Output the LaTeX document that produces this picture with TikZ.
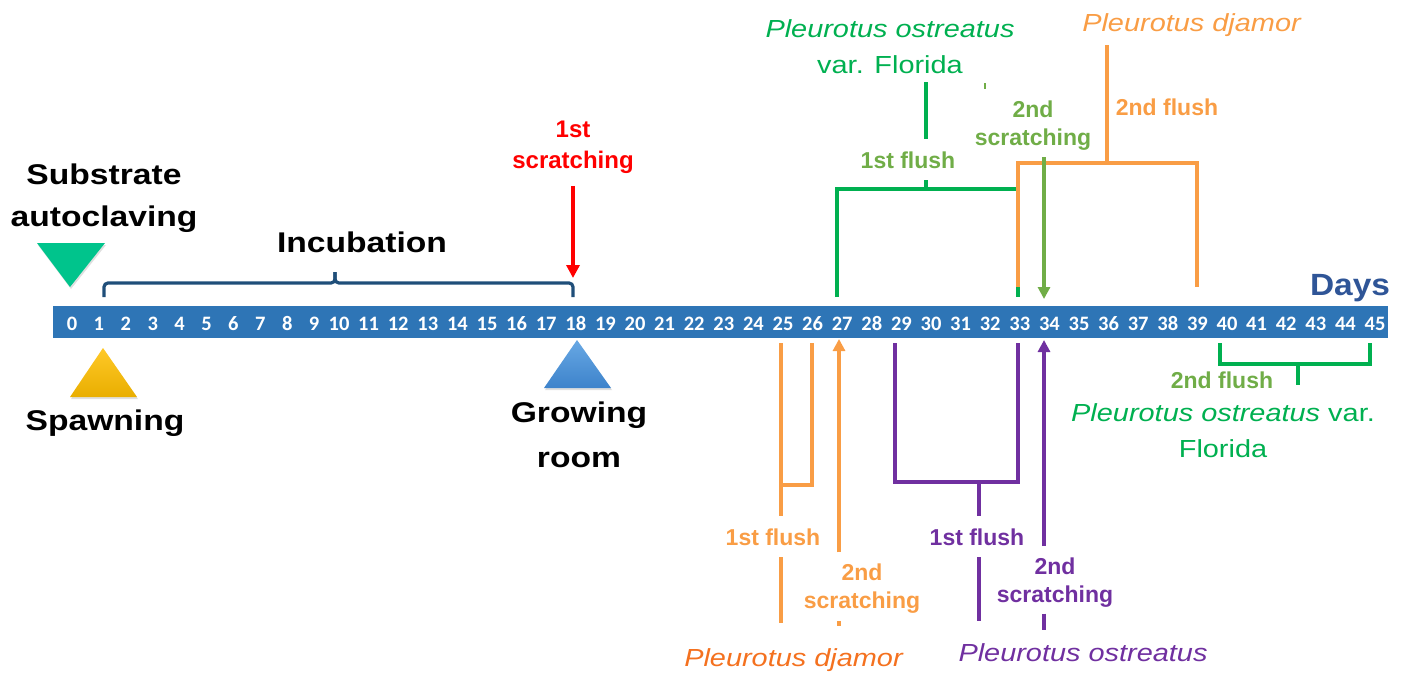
\documentclass[tikz,border=0pt]{standalone}
\usepackage{fontspec}
\setmainfont{Liberation Sans}
\newfontfamily\wideS[FakeStretch=1.18]{Liberation Sans}
\newfontfamily\spS[FakeStretch=1.17]{Liberation Sans}
\newfontfamily\daysF[FakeStretch=1.09]{Liberation Sans}
\newfontfamily\plainS{Liberation Sans}
\newfontfamily\numF{Carlito}
\usetikzlibrary{arrows.meta,shadows}
\definecolor{barblue}{HTML}{2E75B6}
\definecolor{daysblue}{HTML}{2F5597}
\definecolor{bracenavy}{HTML}{1F4E79}
\definecolor{fgreen}{HTML}{00B050}
\definecolor{olive}{HTML}{70AD47}
\definecolor{lorange}{HTML}{F99D45}
\definecolor{dorange}{HTML}{F4711F}
\definecolor{purp}{HTML}{7030A0}
\definecolor{tgreen}{HTML}{00C48C}
\definecolor{tyellowA}{HTML}{FFC928}
\definecolor{tyellowB}{HTML}{E9AE00}
\definecolor{tblueA}{HTML}{68A8E4}
\definecolor{tblueB}{HTML}{3D83CB}
\begin{document}
\begin{tikzpicture}[x=1pt,y=-1pt,
  big/.style={font={\wideS\bfseries\fontsize{28.5}{42}\selectfont}, align=center, inner sep=0pt},
  species/.style={font={\spS\fontsize{24.7}{36}\selectfont}, align=center, inner sep=0pt},
  small/.style={font={\plainS\bfseries\fontsize{23}{28}\selectfont}, align=center, inner sep=0pt},
  day/.style={font={\numF\bfseries\fontsize{20.5}{24}\selectfont}, text=white, inner sep=0pt, anchor=base},
  conn/.style={line width=3.2pt},
  tip/.style={-{Triangle[width=12pt,length=12pt]}},
  shad/.style={drop shadow={opacity=0.25, shadow xshift=1pt, shadow yshift=-2pt}},
]
\useasboundingbox (0,0) rectangle (1407,677);

% timeline bar and days
\node[fill=barblue, minimum width=1335pt, minimum height=32pt, inner sep=0pt, outer sep=0pt] (bar) at (720.5,322) {};
\foreach \n in {0,...,45}{
  \pgfmathsetmacro\xx{\n<10 ? 72+26.9*\n : 339+29.6*(\n-10)}
  \node[day] (d\n) at (\xx,330) {\n};
}
\node[font={\daysF\bfseries\fontsize{30.7}{36}\selectfont}, text=daysblue, anchor=base, inner sep=0pt] (days) at (1350,295) {Days};

% triangles
\fill[tgreen, shad] (37,243) -- (105,243) -- (70,287) -- cycle;
\path[top color=tyellowA, bottom color=tyellowB, shad] (103,348) -- (137,397) -- (70,397) -- cycle;
\path[top color=tblueA, bottom color=tblueB, shad] (577,340) -- (611,388) -- (544,388) -- cycle;

% black labels
\node[big] (substrate) at (104,198.5) {Substrate\\autoclaving};
\node[big, anchor=base] (incub) at (362,252) {Incubation};
\node[big, anchor=base] (spawn) at (105,430) {Spawning};
\node[big, font={\wideS\bfseries\fontsize{28.5}{45}\selectfont}] (grow) at (579,435) {Growing\\room};

% incubation brace
\coordinate (incL) at (104,297);
\coordinate (incR) at (573,297);
\coordinate (incTip) at (335,272);
\draw[bracenavy, line width=3.2pt, rounded corners=4pt] (incL) |- (335,283) -- (incTip);
\draw[bracenavy, line width=3.2pt, rounded corners=4pt] (incR) |- (335,283) -- (incTip);

% 1st scratching
\node[small, text=red, font={\plainS\bfseries\fontsize{24}{31}\selectfont}] (scr1) at (573,147.3) {1st\\scratching};
\coordinate (scr1tip) at (573,278);
\draw[red, conn, -{Triangle[width=13pt,length=13pt]}, shorten <=12pt] (scr1.south) -- (scr1tip);

% ---- top: P. ostreatus var. Florida, 1st flush
\node[species, text=fgreen] (flor) at (890,47) {\textit{Pleurotus ostreatus}\\var. Florida};
\node[small, text=olive, anchor=base, inner xsep=2pt, inner ysep=12pt] (g1f) at (908,168) {1st flush};
\coordinate (gstem) at (926,189);
\coordinate (gL) at (837,297);
\coordinate (gR) at (1018,297);
\draw[fgreen, conn] (gL) |- (gstem) -| (gR);
\draw[fgreen, conn, shorten <=8pt] (flor.south -| gstem) -- (g1f.north -| gstem);
\draw[fgreen, conn] (g1f.south -| gstem) -- (gstem);

% ---- top: P. djamor, 2nd flush
\node[species, text=lorange, anchor=base] (djT) at (1192,32) {\textit{Pleurotus djamor}};
\node[small, text=lorange, anchor=base] (o2f) at (1167,115) {2nd flush};
\coordinate (oStem) at (1107,163);
\coordinate (oL) at (1018,287);
\coordinate (oR) at (1197,287);
\draw[lorange, conn] (oL) |- (oStem) -| (oR);
\draw[lorange, conn, shorten <=8pt] (djT.south -| oStem) -- (oStem);

% ---- top: 2nd scratching (Florida)
\node[small, text=olive] (g2s) at (1033,125.2) {2nd\\scratching};
\coordinate (g2sTip) at (1044,299);
\draw[olive, conn, tip, shorten <=7pt] (g2s.south -| g2sTip) -- (g2sTip);
\coordinate (gdashA) at (985,83);
\coordinate (gdashB) at (985,89);
\draw[olive, line width=2.8pt] (gdashA) -- (gdashB);

% ---- bottom: P. djamor
\node[species, text=dorange, anchor=base] (djB) at (794,666) {\textit{Pleurotus djamor}};
\node[small, text=lorange, anchor=base, inner xsep=2pt, inner ysep=12pt] (o1f) at (773,545) {1st flush};
\coordinate (obL) at (781,343);
\coordinate (obR) at (812,343);
\coordinate (obJ) at (781,485);
\draw[lorange, conn] (obL) -- (o1f.north -| obL);
\draw[lorange, conn] (obJ) -| (obR);
\draw[lorange, conn, shorten >=25pt] (o1f.south -| obL) -- (djB.north -| obL);
\node[small, text=lorange] (o2s) at (862,588.8) {2nd\\scratching};
\coordinate (o2sTip) at (839,339);
\draw[lorange, conn, tip, shorten <=11.5pt] (o2s.north -| o2sTip) -- (o2sTip);
\draw[lorange, conn, shorten <=7pt, shorten >=22pt] (o2s.south -| o2sTip) -- (djB.north -| o2sTip);

% ---- bottom: P. ostreatus
\node[species, text=purp, anchor=base] (pOst) at (1083,661) {\textit{Pleurotus ostreatus}};
\node[small, text=purp, anchor=base, inner xsep=2pt, inner ysep=12pt] (p1f) at (977,545) {1st flush};
\coordinate (pStem) at (979,482);
\coordinate (pL) at (895,343);
\coordinate (pR) at (1018,343);
\draw[purp, conn] (pL) |- (pStem) -| (pR);
\draw[purp, conn] (pStem) -- (p1f.north -| pStem);
\draw[purp, conn, shorten >=22pt] (p1f.south -| pStem) -- (pOst.north -| pStem);
\node[small, text=purp] (p2s) at (1055,582.7) {2nd\\scratching};
\coordinate (p2sTip) at (1044,340);
\draw[purp, conn, tip, shorten <=11.5pt] (p2s.north -| p2sTip) -- (p2sTip);
\draw[purp, conn, shorten <=6pt, shorten >=13pt] (p2s.south -| p2sTip) -- (pOst.north -| p2sTip);

% ---- bottom right: Florida 2nd flush
\coordinate (grL) at (1220,343);
\coordinate (grR) at (1370,343);
\coordinate (grJ) at (1298,364);
\coordinate (grS) at (1298,385);
\draw[fgreen, conn] (grL) |- (grJ) -| (grR);
\draw[fgreen, conn] (grJ) -- (grS);
\node[small, text=olive, anchor=base] (g2f) at (1222,388) {2nd flush};
\node[species, text=fgreen] (flor2) at (1223,431) {\textit{Pleurotus ostreatus} var.\\Florida};
\end{tikzpicture}
\end{document}
